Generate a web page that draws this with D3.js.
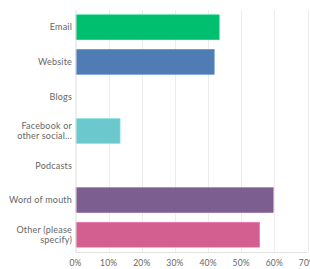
<!DOCTYPE html>
<html>
<head>
<meta charset="utf-8">
<script src="https://cdn.jsdelivr.net/npm/d3@7.9.0/dist/d3.min.js"></script>
<style>
  body { margin: 0; background: #fff; }
  svg { display: block; font-family: Lato, "Open Sans", sans-serif; }
</style>
</head>
<body>
<svg width="310" height="269"></svg>
<script>
const categories = ['Email', 'Website', 'Blogs', 'Facebook or\nother social...', 'Podcasts', 'Word of mouth', 'Other (please\nspecify)'];
const values = [43.2, 41.7, 0, 13.3, 0, 59.5, 55.4];
const colors = ['#00bf6f', '#507cb6', '#f9be00', '#6bc8cd', '#f05b24', '#7d5e90', '#d25f90'];
const tickValues = [0, 10, 20, 30, 40, 50, 60, 70];

const svg = d3.select('svg');
const plotLeft = 75.5, plotRight = 307.5, plotTop = 10, plotBottom = 252;

const x = d3.scaleLinear().domain([0, 70]).range([plotLeft, plotRight]);
const y = d3.scaleBand().domain(categories).range([plotTop, plotBottom])
  .paddingInner(0.28).paddingOuter(0.14);

// gridlines
svg.append('g')
  .selectAll('line')
  .data(tickValues.slice(1))
  .join('line')
  .attr('x1', d => Math.round(x(d)) + 0.5)
  .attr('x2', d => Math.round(x(d)) + 0.5)
  .attr('y1', plotTop)
  .attr('y2', plotBottom)
  .attr('stroke', '#ececec');

// bottom axis line
svg.append('line')
  .attr('x1', plotLeft).attr('x2', plotRight)
  .attr('y1', plotBottom + 0.5).attr('y2', plotBottom + 0.5)
  .attr('stroke', '#e2e2e2');

// bars
svg.append('g')
  .selectAll('rect')
  .data(categories)
  .join('rect')
  .attr('x', plotLeft + 0.5)
  .attr('y', d => y(d))
  .attr('width', (d, i) => Math.max(0, x(values[i]) - plotLeft))
  .attr('height', y.bandwidth())
  .attr('fill', (d, i) => colors[i])
  .attr('stroke', (d, i) => d3.color(colors[i]).brighter(0.4))
  .attr('stroke-width', 0.6)
  .style('display', (d, i) => values[i] > 0 ? null : 'none');

// zero line
svg.append('line')
  .attr('x1', plotLeft + 0.5).attr('x2', plotLeft + 0.5)
  .attr('y1', plotTop).attr('y2', plotBottom)
  .attr('stroke', '#dcdcdc');

// category labels
const labels = svg.append('g')
  .selectAll('text')
  .data(categories)
  .join('text')
  .attr('text-anchor', 'end')
  .attr('font-size', 9)
  .attr('letter-spacing', 0.2)
  .attr('fill', '#666')
  .attr('x', 72)
  .attr('y', d => y(d) + y.bandwidth() / 2);

labels.each(function(d) {
  const lines = d.split('\n');
  const t = d3.select(this);
  lines.forEach((l, i) => {
    t.append('tspan')
      .attr('x', 72)
      .attr('dy', i === 0 ? (0.35 - (lines.length - 1) * 0.55) + 'em' : '1.1em')
      .text(l);
  });
});

// tick labels
svg.append('g')
  .selectAll('text')
  .data(tickValues)
  .join('text')
  .attr('x', d => x(d))
  .attr('y', 266)
  .attr('text-anchor', 'middle')
  .attr('font-size', 8.5)
  .attr('letter-spacing', 0.2)
  .attr('fill', '#666')
  .text(d => d + '%');
</script>
</body>
</html>
